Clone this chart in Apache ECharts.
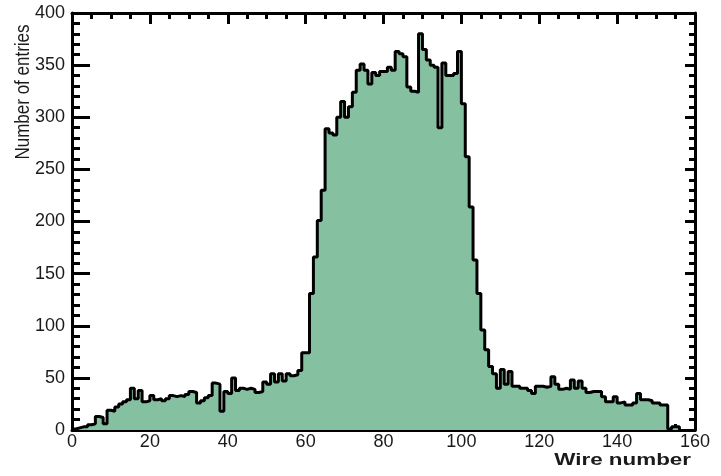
<!DOCTYPE html>
<html>
<head>
<meta charset="utf-8">
<script src="https://cdn.jsdelivr.net/npm/echarts@6/dist/echarts.min.js"></script>
<style>
html,body{margin:0;padding:0;background:#fff;}
#chart{width:721px;height:476px;}
</style>
</head>
<body>
<div id="chart"></div>
<script>
// Histogram: entries per wire (bins of width 1 starting at wire 0)
const binStart = 0;
const binWidth = 1;
const counts = [
  1, 2, 3, 3, 5, 6, 13, 12, 6, 19,
  18, 22, 25, 27, 29, 40, 30, 38, 27, 28,
  33, 29, 30, 28, 30, 33, 32, 33, 32, 34,
  37, 36, 26, 28, 31, 33, 45, 44, 18, 37,
  35, 50, 38, 40, 39, 40, 39, 36, 37, 46,
  44, 54, 46, 54, 47, 54, 52, 53, 57, 74,
  74, 131, 166, 201, 230, 289, 285, 283, 300, 315,
  300, 310, 324, 345, 351, 345, 332, 343, 340, 344,
  344, 348, 345, 363, 361, 358, 329, 325, 324, 380,
  365, 355, 350, 348, 290, 352, 340, 340, 342, 363,
  313, 262, 214, 163, 131, 96, 77, 61, 54, 40,
  58, 44, 56, 42, 42, 40, 40, 38, 35, 42,
  42, 41, 42, 51, 44, 39, 40, 39, 48, 40,
  47, 40, 36, 37, 37, 37, 32, 27, 27, 32,
  26, 27, 24, 24, 26, 35, 29, 29, 28, 26,
  26, 24, 24, 1, 3, 3
];
const xTicks = [0, 20, 40, 60, 80, 100, 120, 140, 160];
const yTicks = [0, 50, 100, 150, 200, 250, 300, 350, 400];
const xTitle = 'Wire number';
const yTitle = 'Number of entries';

const points = counts.map((v, i) => [binStart + i * binWidth, v]);
points.push([binStart + counts.length * binWidth, 0]);

const xMin = xTicks[0], xMax = xTicks[xTicks.length - 1], xInt = xTicks[1] - xTicks[0];
const yMin = yTicks[0], yMax = yTicks[yTicks.length - 1], yInt = yTicks[1] - yTicks[0];

const axisCol = '#000';
const labelStyle = {color: '#1a1a1a', fontSize: 18, fontFamily: 'Liberation Sans, Arial, sans-serif'};

function xAx(pos, showLabel) {
  return {
    type: 'value', position: pos, min: xMin, max: xMax, interval: xInt,
    axisLine: {show: true, onZero: false, lineStyle: {color: axisCol, width: 3}},
    axisTick: {show: true, inside: true, length: 11, lineStyle: {color: axisCol, width: 3}},
    minorTick: {show: true, splitNumber: 4, length: 6, lineStyle: {color: axisCol, width: 3}},
    splitLine: {show: false},
    axisLabel: showLabel ? Object.assign({margin: 3}, labelStyle) : {show: false}
  };
}
function yAx(pos, showLabel, tl, ml) {
  return {
    type: 'value', position: pos, min: yMin, max: yMax, interval: yInt,
    axisLine: {show: true, onZero: false, lineStyle: {color: axisCol, width: 3}},
    axisTick: {show: true, inside: true, length: tl, lineStyle: {color: axisCol, width: 3}},
    minorTick: {show: true, splitNumber: 5, length: ml, lineStyle: {color: axisCol, width: 3}},
    splitLine: {show: false},
    axisLabel: showLabel ? Object.assign({margin: 7}, labelStyle) : {show: false}
  };
}

const chart = echarts.init(document.getElementById('chart'), null, {renderer: 'canvas'});
chart.setOption({
  animation: false,
  backgroundColor: '#fff',
  grid: {left: 72, right: 26, top: 13, bottom: 46, containLabel: false},
  xAxis: [xAx('bottom', true), xAx('top', false)],
  yAxis: [yAx('left', true, 18, 8), yAx('right', false, 10, 6)],
  series: [{
    type: 'line',
    xAxisIndex: 0, yAxisIndex: 0,
    step: 'end',
    data: points,
    symbol: 'none',
    lineStyle: {color: '#000', width: 3},
    areaStyle: {color: '#85c1a1', opacity: 1},
    z: 1
  }],
  graphic: [
    {
      type: 'text', x: 23, y: 92, rotation: Math.PI / 2, scaleY: 1.2,
      style: {text: yTitle, fill: '#1a1a1a', font: '17px "Liberation Sans", Arial, sans-serif', align: 'center', verticalAlign: 'middle'}
    },
    {
      type: 'text', x: 691, y: 461, scaleX: 1.4,
      style: {text: xTitle, fill: '#1a1a1a', font: 'bold 16px "Liberation Sans", Arial, sans-serif', align: 'right', verticalAlign: 'middle'}
    }
  ]
});
</script>
</body>
</html>
